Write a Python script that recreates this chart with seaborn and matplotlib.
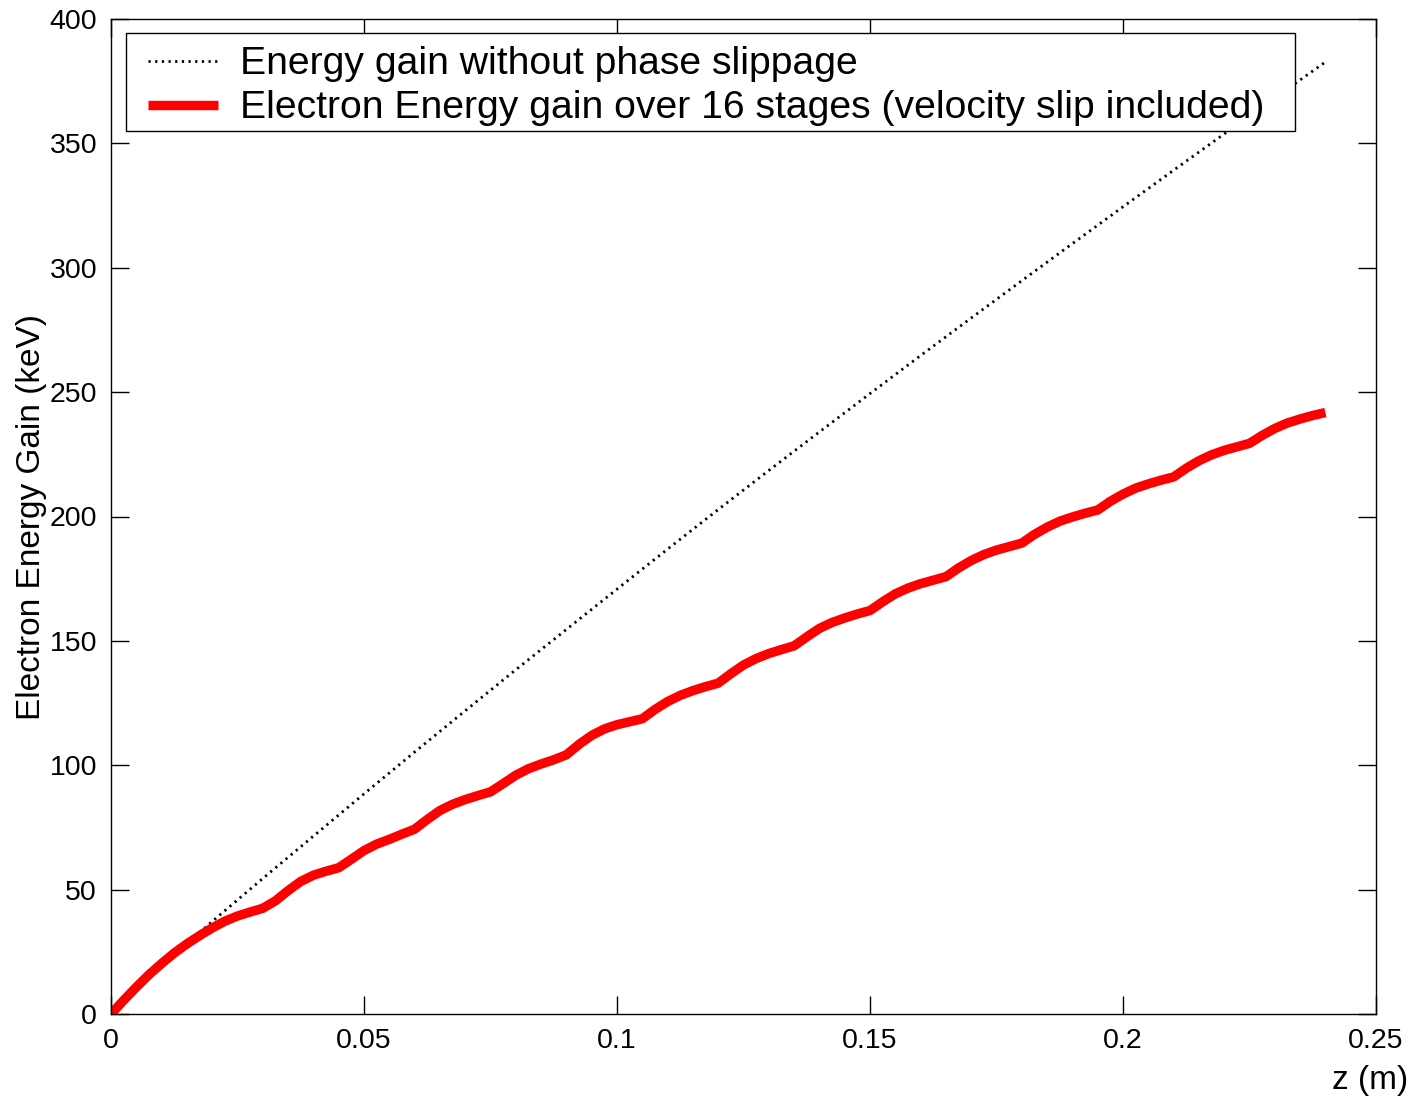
import numpy as np
import pandas as pd
import matplotlib
matplotlib.use("Agg")
import matplotlib.pyplot as plt
from matplotlib.patches import Rectangle
import seaborn as sns

# ---- data ----
ideal_z = [0.0, 0.01, 0.02, 0.03, 0.04, 0.05, 0.06, 0.07, 0.08, 0.09, 0.10,
           0.11, 0.12, 0.13, 0.14, 0.15, 0.16, 0.17, 0.18, 0.19, 0.20,
           0.21, 0.22, 0.23, 0.24]
ideal_gain = [0.0, 19.3, 37.2, 54.5, 71.5, 88.5, 105.3, 121.9, 138.4, 154.6,
              170.8, 186.9, 202.8, 218.5, 234.0, 249.4, 264.7, 279.8, 294.8,
              309.7, 324.5, 339.2, 353.8, 368.3, 382.7]

slip_z = [round(i * 0.0025, 4) for i in range(97)]
slip_gain = [
    0.0, 5.5, 10.8, 15.8, 20.3, 24.5, 28.2, 31.5, 34.6, 37.3, 39.4, 41.0, 42.5,
    45.5, 49.6, 53.3, 55.8, 57.4, 58.8,
    62.2, 65.7, 68.3, 70.2, 72.3, 74.3,
    78.2, 81.8, 84.3, 86.2, 87.8, 89.3,
    92.6, 96.0, 98.6, 100.5, 102.2, 104.2,
    108.4, 112.0, 114.6, 116.3, 117.5, 118.7,
    122.4, 125.6, 128.1, 130.0, 131.6, 133.0,
    136.8, 140.3, 142.9, 144.9, 146.5, 148.0,
    151.6, 155.0, 157.4, 159.2, 160.8, 162.2,
    165.7, 168.9, 171.2, 173.0, 174.4, 175.8,
    179.3, 182.3, 184.7, 186.5, 187.9, 189.3,
    192.8, 195.7, 198.1, 199.8, 201.3, 202.6,
    206.1, 209.0, 211.4, 213.1, 214.6, 215.9,
    219.4, 222.4, 224.8, 226.6, 228.0, 229.4,
    232.6, 235.4, 237.6, 239.2, 240.6, 241.8,
]

label_ideal = "Energy gain without phase slippage"
label_slip = "Electron Energy gain over 16 stages (velocity slip included)"
x_ticks = [0, 0.05, 0.1, 0.15, 0.2, 0.25]
x_ticklabels = ["0", "0.05", "0.1", "0.15", "0.2", "0.25"]
y_ticks = [0, 50, 100, 150, 200, 250, 300, 350, 400]

# ---- style ----
sns.set_style("ticks")
plt.rcParams["font.family"] = ["Liberation Sans", "DejaVu Sans"]
plt.rcParams["text.color"] = "black"
plt.rcParams["axes.labelcolor"] = "black"
plt.rcParams["xtick.color"] = "black"
plt.rcParams["ytick.color"] = "black"

W, H = 1414, 1099
AX_L, AX_R, AX_T, AX_B = 111, 1376, 19, 1014
fig = plt.figure(figsize=(W / 100, H / 100), dpi=100)
ax = fig.add_axes([AX_L / W, 1 - AX_B / H, (AX_R - AX_L) / W, (AX_B - AX_T) / H])

df_ideal = pd.DataFrame({"z": ideal_z, "gain": ideal_gain})
df_slip = pd.DataFrame({"z": slip_z, "gain": slip_gain})

sns.lineplot(data=df_ideal, x="z", y="gain", ax=ax, color="black",
             linewidth=2.0, linestyle=(0, (0.8, 1.6)), label=label_ideal)
sns.lineplot(data=df_slip, x="z", y="gain", ax=ax, color="#ff0000",
             linewidth=6.8, label=label_slip, solid_capstyle="butt",
             solid_joinstyle="round")

ax.set_xlim(0, 0.25)
ax.set_ylim(0, 400)
ax.set_xticks(x_ticks)
ax.set_xticklabels(x_ticklabels)
ax.set_yticks(y_ticks)
ax.tick_params(direction="in", length=13, width=1, labelsize=20.5,
               top=True, right=True, colors="black", pad=10)
for s in ax.spines.values():
    s.set_visible(True)
    s.set_color("black")
    s.set_linewidth(1.0)

ax.set_xlabel("")
ax.set_ylabel("Electron Energy Gain (keV)", fontsize=24, labelpad=2)
fig.text(1408 / W, 1 - 1080 / H, "z (m)", fontsize=24,
         ha="right", va="center")

# legend box (frame drawn separately to match the original padding)
aw, ah = AX_R - AX_L, AX_B - AX_T
ax.add_patch(Rectangle(((126 - AX_L) / aw, (AX_B - 131) / ah),
                       (1295 - 126) / aw, (131 - 33) / ah,
                       transform=ax.transAxes, facecolor="white",
                       edgecolor="black", linewidth=1.0, zorder=4.9,
                       clip_on=False))
leg = ax.legend(loc="upper left",
                bbox_to_anchor=((148 - AX_L) / aw, (AX_B - 46.5) / ah),
                borderaxespad=0, borderpad=0, fontsize=28.2, frameon=False,
                handlelength=1.79, handletextpad=0.57, labelspacing=0.2)
leg.set_zorder(5)

fig.savefig("out.png", dpi=100, facecolor="white")
